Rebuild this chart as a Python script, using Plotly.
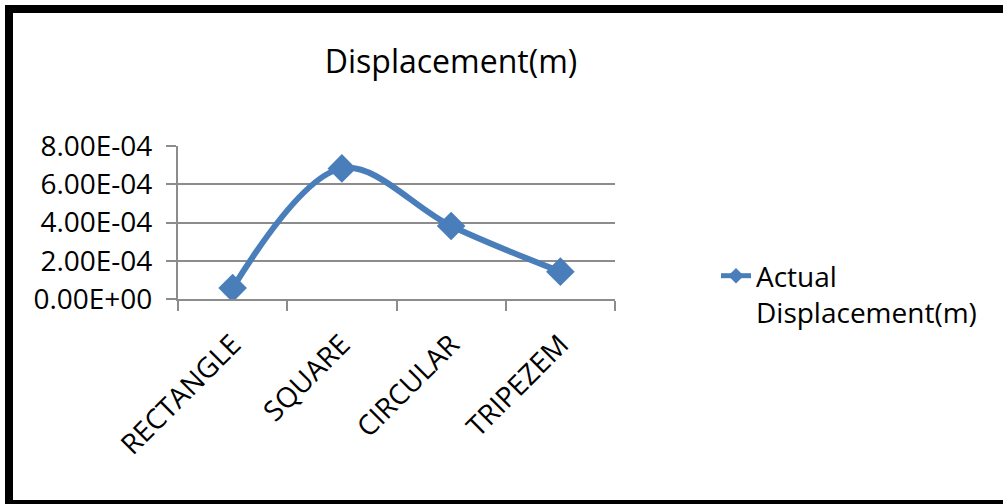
import plotly.graph_objects as go

# ---- data -------------------------------------------------------------
categories = ["RECTANGLE", "SQUARE", "CIRCULAR", "TRIPEZEM"]
actual_displacement = [5.7e-5, 6.83e-4, 3.82e-4, 1.43e-4]
y_tick_values = [0, 2e-4, 4e-4, 6e-4, 8e-4]
y_tick_labels = ["0.00E+00", "2.00E-04", "4.00E-04", "6.00E-04", "8.00E-04"]
series_name = "Actual<br>Displacement(m)"
chart_title = "Displacement(m)"

# ---- geometry / style -------------------------------------------------
W, H = 1003, 504
M_L, M_R, M_T, M_B = 178, 388, 146, 205
PLOT_W = W - M_L - M_R
PLOT_H = H - M_T - M_B
FONT = "Open Sans"
BLUE = "#4a7ebb"
GRAY = "#8c8c8c"


def px_x(px):
    """pixel column -> paper x"""
    return (px - M_L) / PLOT_W


def px_y(py):
    """pixel row -> paper y"""
    return (H - M_B - py) / PLOT_H


fig = go.Figure()
fig.add_trace(go.Scatter(
    x=categories,
    y=actual_displacement,
    name=series_name,
    mode="lines+markers",
    line=dict(color=BLUE, width=6, shape="spline", smoothing=1),
    marker=dict(symbol="diamond", size=22, color=BLUE),
    showlegend=True,
    hoverinfo="x+y",
))

fig.update_layout(
    width=W,
    height=H,
    margin=dict(l=M_L, r=M_R, t=M_T, b=M_B, autoexpand=False),
    paper_bgcolor="white",
    plot_bgcolor="white",
    font=dict(family=FONT, size=28, color="black"),
    title=dict(
        text=chart_title,
        font=dict(family=FONT, size=32, color="black"),
        x=451 / W, xref="container", xanchor="center",
        y=1 - 62 / H, yref="container", yanchor="middle",
    ),
    xaxis=dict(
        type="category",
        range=[-0.5, len(categories) - 0.5],
        tickson="boundaries",
        ticks="outside", ticklen=10, tickwidth=2, tickcolor=GRAY,
        showline=True, linecolor=GRAY, linewidth=2,
        showgrid=False, zeroline=False,
        tickangle=-45,
        ticklabelstandoff=16,
        tickfont=dict(family=FONT, size=28, color="black"),
    ),
    yaxis=dict(
        range=[0, 8e-4],
        tickvals=y_tick_values,
        ticktext=y_tick_labels,
        ticks="outside", ticklen=10, tickwidth=2, tickcolor=GRAY,
        showline=True, linecolor=GRAY, linewidth=2,
        showgrid=True, gridcolor=GRAY, gridwidth=2,
        zeroline=False,
        ticklabelstandoff=8,
        tickfont=dict(family=FONT, size=28, color="black"),
    ),
    legend=dict(
        x=px_x(716), xanchor="left",
        y=px_y(251), yanchor="top",
        valign="top",
        itemsizing="constant",
        bgcolor="rgba(0,0,0,0)",
        font=dict(family=FONT, size=28, color="black"),
    ),
    shapes=[
        # heavy black frame around the whole chart
        dict(
            type="rect", xref="paper", yref="paper",
            x0=px_x(9), x1=px_x(1012),
            y0=px_y(504), y1=px_y(9),
            line=dict(color="black", width=8),
            fillcolor="rgba(0,0,0,0)",
            layer="above",
        )
    ],
)

fig.write_html("out.html")
